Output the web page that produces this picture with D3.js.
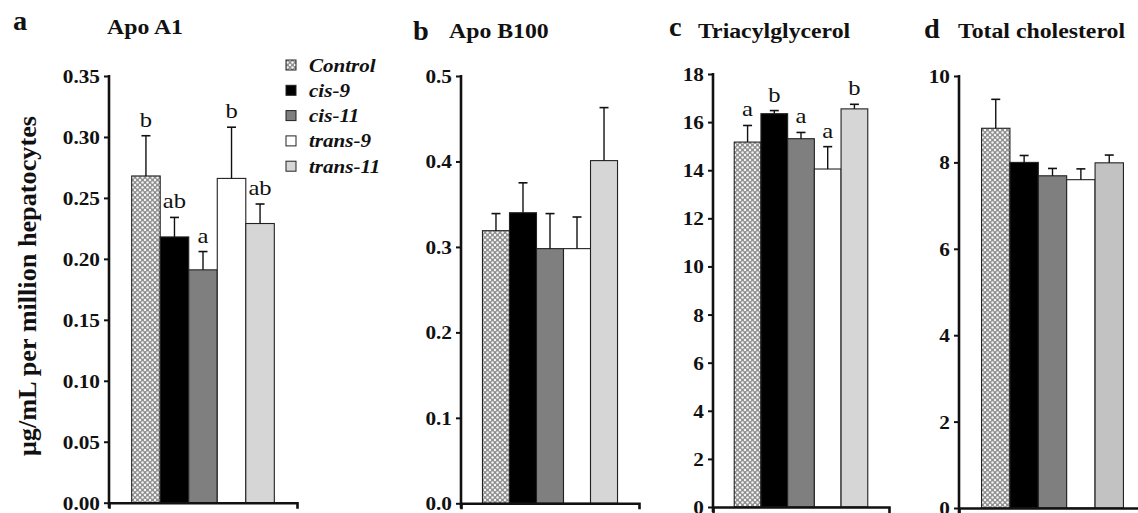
<!DOCTYPE html>
<html><head><meta charset="utf-8">
<script src="https://cdn.jsdelivr.net/npm/d3@7"></script>
<style>
body{margin:0;background:#fff}
text{font-family:"Liberation Serif","Times New Roman",serif;fill:#111}
</style>
</head><body>
<svg id="chart" width="1138" height="513"></svg>
<script>
// ---------- data ----------
const series = ["Control", "cis-9", "cis-11", "trans-9", "trans-11"];
const panelLetters = ["a", "b", "c", "d"];
const panelTitles = ["Apo A1", "Apo B100", "Triacylglycerol", "Total cholesterol"];

const apoA1Mean = [0.268, 0.218, 0.191, 0.266, 0.229];
const apoA1Err  = [0.033, 0.016, 0.015, 0.042, 0.016];
const apoA1Sig  = ["b", "ab", "a", "b", "ab"];
const apoA1Ticks = [0, 0.05, 0.10, 0.15, 0.20, 0.25, 0.30, 0.35];

const apoB100Mean = [0.319, 0.340, 0.298, 0.298, 0.401];
const apoB100Err  = [0.020, 0.035, 0.041, 0.037, 0.062];
const apoB100Sig  = ["", "", "", "", ""];
const apoB100Ticks = [0, 0.1, 0.2, 0.3, 0.4, 0.5];

const tagMean = [15.17, 16.35, 15.31, 14.05, 16.55];
const tagErr  = [0.69, 0.13, 0.26, 0.93, 0.19];
const tagSig  = ["a", "b", "a", "a", "b"];
const tagTicks = [0, 2, 4, 6, 8, 10, 12, 14, 16, 18];

const cholMean = [8.79, 8.00, 7.69, 7.60, 7.99];
const cholErr  = [0.67, 0.16, 0.17, 0.25, 0.18];
const cholSig  = ["", "", "", "", ""];
const cholTicks = [0, 2, 4, 6, 8, 10];

const yLabel = "μg/mL per million hepatocytes";

// ---------- layout / style ----------
const fills = ["url(#checker)", "#000000", "#7f7f7f", "#ffffff", "#d6d6d6"];
const SX = 1.12; // slight horizontal stretch of glyphs in the reference
const panels = [
  {mean: apoA1Mean, err: apoA1Err, sig: apoA1Sig, ticks: apoA1Ticks, fmt: ".2f", lastFill: "#d6d6d6",
   x0: 109, x1: 297, yTop: 76, yBot: 502.7, lx: 13, ly: 30, tx: 107, ty: 34},
  {mean: apoB100Mean, err: apoB100Err, sig: apoB100Sig, ticks: apoB100Ticks, fmt: ".1f", lastFill: "#d6d6d6",
   x0: 461, x1: 639, yTop: 76, yBot: 503.3, lx: 413, ly: 40, tx: 449, ty: 38},
  {mean: tagMean, err: tagErr, sig: tagSig, ticks: tagTicks, fmt: "d", lastFill: "#d6d6d6",
   x0: 713, x1: 889, yTop: 74, yBot: 507, lx: 669, ly: 36, tx: 698, ty: 38},
  {mean: cholMean, err: cholErr, sig: cholSig, ticks: cholTicks, fmt: "d", lastFill: "#c2c2c2",
   x0: 959, x1: 1146, yTop: 76, yBot: 508, lx: 924, ly: 38, tx: 958, ty: 38}
];

const svg = d3.select("#chart");
const defs = svg.append("defs");
const pat = defs.append("pattern").attr("id", "checker").attr("patternUnits", "userSpaceOnUse")
  .attr("width", 5).attr("height", 5);
pat.append("rect").attr("width", 5).attr("height", 5).attr("fill", "#8e8e8e");
[[0,0],[5,0],[0,5],[5,5],[2.5,2.5]].forEach(([cx,cy]) =>
  pat.append("circle").attr("cx", cx).attr("cy", cy).attr("r", 1.25).attr("fill", "#f4f4f4"));

function stext(g, x, y, str, size, opts = {}) {
  return g.append("text")
    .attr("transform", `translate(${x},${y}) scale(${opts.sx || SX},1)`)
    .attr("text-anchor", opts.anchor || "start")
    .style("font-size", size + "px")
    .style("font-weight", opts.weight || "bold")
    .style("font-style", opts.style || "normal")
    .text(str);
}

panels.forEach((p, i) => {
  const g = svg.append("g");
  const y = d3.scaleLinear().domain([0, d3.max(p.ticks)]).range([p.yBot, p.yTop]);
  const outer = d3.scaleBand().domain(["group"]).range([p.x0, p.x1]).paddingOuter(0.159).paddingInner(0);
  const x = d3.scaleBand().domain(series).range([outer("group"), outer("group") + outer.bandwidth()]);
  const fillOf = k => (k === series.length - 1 ? p.lastFill : fills[k]);

  // bars
  g.selectAll("rect.bar").data(series).join("rect").attr("class", "bar")
    .attr("x", d => x(d)).attr("width", x.bandwidth())
    .attr("y", (d, k) => y(p.mean[k])).attr("height", (d, k) => y(0) - y(p.mean[k]))
    .attr("fill", (d, k) => fillOf(k)).attr("stroke", "#222").attr("stroke-width", 1.1);

  // error bars (upper)
  const eb = g.selectAll("g.eb").data(series).join("g").attr("class", "eb");
  eb.append("line")
    .attr("x1", d => x(d) + x.bandwidth() / 2).attr("x2", d => x(d) + x.bandwidth() / 2)
    .attr("y1", (d, k) => y(p.mean[k])).attr("y2", (d, k) => y(p.mean[k] + p.err[k]))
    .attr("stroke", "#111").attr("stroke-width", 1.4);
  eb.append("line")
    .attr("x1", d => x(d) + x.bandwidth() / 2 - 4.5).attr("x2", d => x(d) + x.bandwidth() / 2 + 4.5)
    .attr("y1", (d, k) => y(p.mean[k] + p.err[k])).attr("y2", (d, k) => y(p.mean[k] + p.err[k]))
    .attr("stroke", "#111").attr("stroke-width", 1.6);

  // significance letters
  series.forEach((s, k) => {
    if (p.sig[k]) stext(g, x(s) + x.bandwidth() / 2, y(p.mean[k] + p.err[k]) - 9, p.sig[k], 22,
      {anchor: "middle", weight: "normal", sx: 1.12});
  });

  // y axis
  const ay = g.append("g").attr("transform", `translate(${p.x0},0)`)
    .call(d3.axisLeft(y).tickValues(p.ticks).tickFormat(d3.format(p.fmt)).tickSizeInner(5).tickSizeOuter(0));
  ay.select(".domain").remove();
  ay.selectAll(".tick line").attr("stroke", "#111").attr("stroke-width", 2);
  ay.selectAll(".tick text").attr("x", null).attr("dy", "0.34em")
    .attr("transform", `translate(-9,0) scale(${SX},1)`)
    .style("font-size", "19px").style("font-weight", "bold").attr("fill", "#111");
  g.append("line").attr("x1", p.x0).attr("x2", p.x0).attr("y1", y(d3.max(p.ticks)) - 1).attr("y2", y(0) + 5)
    .attr("stroke", "#111").attr("stroke-width", 2.6);

  // x axis (single category, tick marks at both ends)
  const ax = g.append("g").attr("transform", `translate(0,${y(0)})`)
    .call(d3.axisBottom(outer).tickSizeInner(0).tickSizeOuter(6).tickFormat(""));
  ax.selectAll(".tick").remove();
  ax.select(".domain").attr("stroke", "#111").attr("stroke-width", 2.6);

  // panel letter + title
  stext(g, p.lx, p.ly, panelLetters[i], 27, {sx: 1.05});
  stext(g, p.tx, p.ty, panelTitles[i], 20.5, {sx: 1.16});
});

// y-axis label
svg.append("text")
  .attr("transform", "translate(36,286) rotate(-90)")
  .attr("text-anchor", "middle")
  .style("font-size", "25px").style("font-weight", "bold")
  .attr("textLength", 340).attr("lengthAdjust", "spacingAndGlyphs")
  .text(yLabel);

// legend
const lg = svg.append("g");
series.forEach((s, k) => {
  const cy = 65 + k * 25.3;
  lg.append("rect").attr("x", 286).attr("y", cy - 5).attr("width", 10).attr("height", 10)
    .attr("fill", fills[k]).attr("stroke", "#222").attr("stroke-width", 1);
  stext(lg, 309, cy + 6.5, s, 19.5, {style: "italic", weight: "bold", sx: 1.08});
});
</script>
</body></html>
